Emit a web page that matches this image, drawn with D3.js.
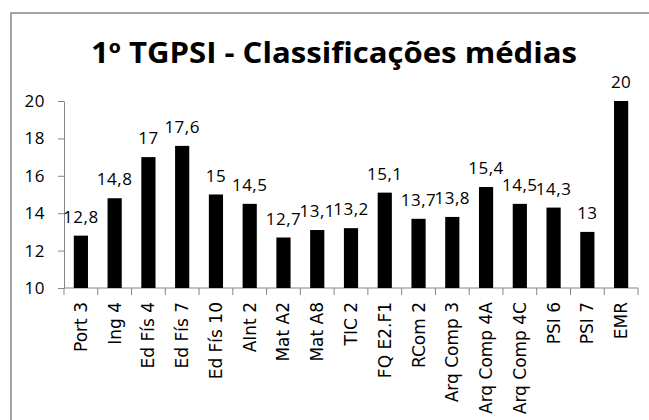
<!DOCTYPE html>
<html lang="pt">
<head>
    <meta charset="UTF-8">
    <title>1º TGPSI - Classificações médias</title>
    <script src="https://d3js.org/d3.v7.min.js"></script>
    <style>
        body { margin: 0; background: #fff; }
        svg { display: block; }
        .num { font: 17px "Open Sans", sans-serif; fill: #000; letter-spacing: 0.5px; }
        .cat { font: 17px "DejaVu Sans", sans-serif; fill: #000; }
        .axis path, .axis line { stroke: #868686; }
    </style>
</head>
<body>
<div id="chart"></div>
<script>
    const categories = ["Port 3", "Ing 4", "Ed Fís 4", "Ed Fís 7", "Ed Fís 10", "AInt 2", "Mat A2", "Mat A8",
        "TIC 2", "FQ E2.F1", "RCom 2", "Arq Comp 3", "Arq Comp 4A", "Arq Comp 4C", "PSI 6", "PSI 7", "EMR"];
    const medias = [12.8, 14.8, 17, 17.6, 15, 14.5, 12.7, 13.1, 13.2, 15.1, 13.7, 13.8, 15.4, 14.5, 14.3, 13, 20];
    const yTicks = [10, 12, 14, 16, 18, 20];
    const title = "1º TGPSI - Classificações médias";

    const width = 649, height = 420;
    const svg = d3.select("#chart").append("svg")
        .attr("width", width)
        .attr("height", height);

    // chart frame
    svg.append("rect")
        .attr("x", 11).attr("y", 13)
        .attr("width", 700).attr("height", 460)
        .attr("fill", "none")
        .attr("stroke", "#868686")
        .attr("stroke-width", 1.5);

    svg.append("text")
        .attr("x", 91).attr("y", 63)
        .attr("textLength", 486).attr("lengthAdjust", "spacingAndGlyphs")
        .style("font", "bold 28px 'Open Sans', sans-serif")
        .text(title);

    const x = d3.scaleBand()
        .domain(categories)
        .range([64, 638])
        .paddingInner(0.58)
        .paddingOuter(0.29);

    const y = d3.scaleLinear()
        .domain([10, 20])
        .range([288, 101]);

    // y axis
    const yAxis = svg.append("g")
        .attr("class", "axis")
        .attr("transform", "translate(64,0)")
        .call(d3.axisLeft(y).tickValues(yTicks).tickSize(6).tickPadding(13).tickSizeOuter(0));
    yAxis.selectAll("text").attr("class", "num");

    // x axis: line + ticks at band boundaries
    const xAxis = svg.append("g").attr("class", "axis");
    xAxis.append("line")
        .attr("x1", x.range()[0]).attr("x2", x.range()[1])
        .attr("y1", y(10)).attr("y2", y(10));
    const bounds = d3.range(categories.length + 1).map(i => x.range()[0] + i * x.step());
    xAxis.selectAll(".tk")
        .data(bounds)
        .join("line")
        .attr("class", "tk")
        .attr("x1", d => d).attr("x2", d => d)
        .attr("y1", y(10)).attr("y2", y(10) + 7);

    svg.selectAll(".cat")
        .data(categories)
        .join("text")
        .attr("class", "cat")
        .attr("text-anchor", "end")
        .attr("transform", d => `translate(${x(d) + x.bandwidth() / 2 + 6},302) rotate(-90)`)
        .text(d => d);

    svg.selectAll(".bar")
        .data(medias)
        .join("rect")
        .attr("class", "bar")
        .attr("x", (d, i) => x(categories[i]))
        .attr("y", d => y(d))
        .attr("width", x.bandwidth())
        .attr("height", d => y(10) - y(d))
        .attr("fill", "#000");

    svg.selectAll(".lbl")
        .data(medias)
        .join("text")
        .attr("class", "num lbl")
        .attr("text-anchor", "middle")
        .attr("x", (d, i) => x(categories[i]) + x.bandwidth() / 2)
        .attr("y", d => y(d) - 13)
        .text(d => String(d).replace(".", ","));
</script>
</body>
</html>
